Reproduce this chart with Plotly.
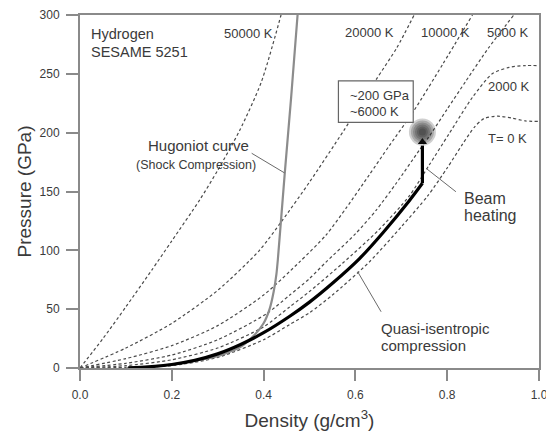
import plotly.graph_objects as go

# ---------------- data ----------------
rho_50000 = [0.0, 0.05, 0.10, 0.156, 0.20, 0.261, 0.30, 0.348, 0.395, 0.438]
p_50000   = [0, 25, 52, 83, 108, 143, 168, 202, 243, 300]

rho_20000 = [0.0, 0.10, 0.20, 0.30, 0.391, 0.44, 0.50, 0.575, 0.645, 0.69, 0.728]
p_20000   = [0, 17, 38, 66, 100, 125, 158, 202, 245, 272, 300]

rho_10000 = [0.0, 0.10, 0.20, 0.30, 0.40, 0.478, 0.536, 0.58, 0.63, 0.674, 0.728, 0.79, 0.855]
p_10000   = [0, 8, 19, 36, 62, 90, 113, 136, 164, 189, 219, 258, 300]

rho_5000 = [0.0, 0.10, 0.20, 0.30, 0.406, 0.457, 0.50, 0.536, 0.60, 0.645, 0.689, 0.739, 0.761, 0.80, 0.841, 0.89, 0.945]
p_5000   = [0, 4, 11, 24, 46, 62, 76, 90, 114, 134, 157, 185, 197, 220, 244, 272, 300]

rho_2000 = [0.0, 0.10, 0.20, 0.30, 0.40, 0.457, 0.50, 0.572, 0.65, 0.717, 0.76, 0.804, 0.855, 0.898, 0.935, 0.97, 1.0]
p_2000   = [0, 2, 7, 17, 35, 52, 65, 89, 117, 146, 172, 199, 230, 250, 255.5, 257, 257]

rho_0K = [0.0, 0.10, 0.20, 0.30, 0.40, 0.457, 0.50, 0.55, 0.63, 0.70, 0.757, 0.80, 0.833, 0.86, 0.88, 0.91, 0.94, 0.97, 1.0]
p_0K   = [0, 0.5, 2, 9, 24, 37, 47, 62, 90, 120, 146, 170, 190, 205, 212, 214, 212.5, 210, 209.5]

rho_hug = [0.10, 0.20, 0.30, 0.35, 0.38, 0.40, 0.413, 0.422, 0.428, 0.431, 0.446, 0.46, 0.474]
p_hug   = [0, 3, 10, 18, 28, 38, 50, 65, 80, 92, 165, 230, 300]

rho_qi = [0.105, 0.15, 0.20, 0.25, 0.30, 0.35, 0.40, 0.457, 0.50, 0.55, 0.609, 0.66, 0.717, 0.746]
p_qi   = [0.2, 1, 3, 6.5, 12, 20, 30, 44, 56, 72, 93, 115, 142, 157]

rho_beam = [0.746, 0.746]
p_beam   = [157, 189]
beam_tip = (0.746, 192)
hot_spot = (0.746, 200.5)

iso_labels = ["50000 K", "20000 K", "10000 K", "5000 K", "2000 K", "T= 0 K"]
x_ticks = [0.0, 0.2, 0.4, 0.6, 0.8, 1.0]
x_ticklabels = ["0.0", "0.2", "0.4", "0.6", "0.8", "1.0"]
y_ticks = [0, 50, 100, 150, 200, 250, 300]

# ---------------- figure ----------------
FONT = "Liberation Sans, Arial, sans-serif"
TXT = "#3a3a3a"
DASH_COL = "#4a4a4a"

fig = go.Figure()

for rr, pp in [(rho_50000, p_50000), (rho_20000, p_20000), (rho_10000, p_10000),
               (rho_5000, p_5000), (rho_2000, p_2000), (rho_0K, p_0K)]:
    fig.add_trace(go.Scatter(x=rr, y=pp, mode="lines",
                             line=dict(color=DASH_COL, width=1.2, dash="3px,2.5px",
                                       shape="spline", smoothing=0.7),
                             hoverinfo="skip", showlegend=False))

# Hugoniot
fig.add_trace(go.Scatter(x=rho_hug, y=p_hug, mode="lines",
                         line=dict(color="#8c8c8c", width=2.2, shape="spline", smoothing=0.6),
                         hoverinfo="skip", showlegend=False))

# quasi-isentrope
fig.add_trace(go.Scatter(x=rho_qi, y=p_qi, mode="lines",
                         line=dict(color="black", width=3.2, shape="spline", smoothing=0.8),
                         hoverinfo="skip", showlegend=False))
fig.add_trace(go.Scatter(x=rho_beam, y=p_beam, mode="lines",
                         line=dict(color="black", width=3.2),
                         hoverinfo="skip", showlegend=False))
fig.add_trace(go.Scatter(x=[beam_tip[0]], y=[beam_tip[1]], mode="markers",
                         marker=dict(symbol="triangle-up", size=8, color="black"),
                         hoverinfo="skip", showlegend=False))

# hot spot (glow built from stacked translucent discs)
glow_sizes = [27, 23, 19, 15, 11, 7]
fig.add_trace(go.Scatter(x=[hot_spot[0]] * len(glow_sizes), y=[hot_spot[1]] * len(glow_sizes),
                         mode="markers",
                         marker=dict(size=glow_sizes, color="rgba(30,30,30,0.3)", line=dict(width=0)),
                         hoverinfo="skip", showlegend=False))

# leader lines
for (x0, y0), (x1, y1) in [((0.374, 182.5), (0.446, 165.7)),
                           ((0.754, 169.7), (0.819, 149.8)),
                           ((0.605, 81.8), (0.656, 47.8))]:
    fig.add_trace(go.Scatter(x=[x0, x1], y=[y0, y1], mode="lines",
                             line=dict(color="#6a6a6a", width=1),
                             hoverinfo="skip", showlegend=False))

# text box
fig.add_shape(type="rect", xref="x", yref="y", x0=0.563, x1=0.726, y0=208.7, y1=244.1,
              line=dict(color="#666", width=1.2), fillcolor="white", layer="above")

annots = []
def txt(x, y, s, anchor="left", size=12):
    annots.append(dict(x=x, y=y, xref="x", yref="y", text=s, showarrow=False,
                       xanchor=anchor, yanchor="middle",
                       font=dict(family=FONT, size=size, color=TXT)))

txt(0.020, 283.8, "Hydrogen", size=14.5)
txt(0.020, 268.5, "SESAME 5251", size=14.5)
iso_pos = [(0.425, 284.6), (0.688, 285.0), (0.855, 285.0), (0.982, 285.0), (0.985, 239.0), (0.978, 195.2)]
for lab, (x, y) in zip(iso_labels, iso_pos):
    txt(x, y, lab, anchor="right", size=13)
txt(0.259, 188.9, "Hugoniot curve", anchor="center", size=15)
txt(0.252, 172.5, "(Shock Compression)", anchor="center", size=12.5)
txt(0.833, 144.2, "Beam", size=16)
txt(0.833, 130.0, "heating", size=16)
txt(0.652, 33.7, "Quasi-isentropic", size=15)
txt(0.652, 19.5, "compression", size=15)
txt(0.583, 232.0, "~200 GPa", size=13)
txt(0.583, 217.8, "~6000 K", size=13)

fig.update_layout(
    width=546, height=432,
    margin=dict(l=80, r=7, t=15, b=64),
    paper_bgcolor="white", plot_bgcolor="white",
    font=dict(family=FONT, color=TXT),
    annotations=annots,
    showlegend=False,
)
fig.update_xaxes(range=[0, 1.0], tickvals=x_ticks, ticktext=x_ticklabels,
                 ticks="outside", ticklen=11, tickwidth=1.5, tickcolor="#8a8a8a",
                 ticklabelstandoff=4, automargin=False, ticklabeloverflow="allow",
                 showline=True, linecolor="#8a8a8a", linewidth=2, mirror=True,
                 showgrid=False, zeroline=False,
                 tickfont=dict(size=12, color=TXT),
                 title=dict(text="Density (g/cm<sup>3</sup>)", font=dict(size=19, color=TXT), standoff=12))
fig.update_yaxes(range=[0, 300], tickvals=y_ticks,
                 ticks="outside", ticklen=12, tickwidth=1.5, tickcolor="#8a8a8a",
                 ticklabelstandoff=4, automargin=False,
                 showline=True, linecolor="#8a8a8a", linewidth=2, mirror=True,
                 showgrid=False, zeroline=False,
                 tickfont=dict(size=12, color=TXT),
                 title=dict(text="Pressure (GPa)", font=dict(size=19, color=TXT), standoff=3))

fig.write_html("out.html")
